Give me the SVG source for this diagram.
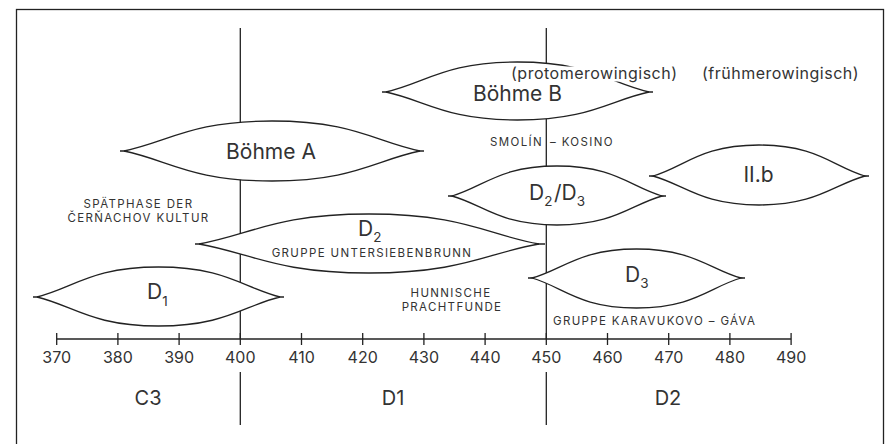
<svg xmlns="http://www.w3.org/2000/svg" width="891" height="444" viewBox="0 0 891 444">
  <style>
    .ln { fill: none; stroke: #222; stroke-width: 1.3; }
    .lens { fill: #fff; stroke: #222; stroke-width: 1.3; stroke-linejoin: miter; }
    .stub { fill: none; stroke: #222; stroke-width: 1.6; }
    text { font-family: Inter, "Liberation Sans", sans-serif; fill: #333; }
    .big { font-size: 21px; }
    .sub { font-size: 13.5px; }
    .cap { font-size: 11.5px; letter-spacing: 1.35px; }
    .paren { font-size: 16px; letter-spacing: 0.5px; }
    .num { font-size: 16px; text-anchor: middle; }
    .per { font-size: 20px; text-anchor: middle; }
    .mid { text-anchor: middle; }
  </style>

  <!-- outer frame (open at the bottom edge) -->
  <rect x="16.5" y="9.5" width="867" height="450" class="ln"/>

  <!-- period boundaries and time axis -->
  <g id="connectors">
    <path class="ln" d="M240.3,28 V339 M240.3,372 V425"/>
    <path class="ln" d="M546.3,28 V339 M546.3,372 V425"/>
    <path class="ln" d="M56.7,339 H791.1"/>
    <path class="ln" d="M56.7,333 v12 M117.9,333 v12 M179.1,333 v12 M240.3,333 v12 M301.5,333 v12 M362.7,333 v12 M423.9,333 v12 M485.1,333 v12 M546.3,333 v12 M607.5,333 v12 M668.7,333 v12 M729.9,333 v12 M791.1,333 v12"/>
  </g>

  <g id="axis-labels">
    <text class="num" x="56.7" y="363">370</text>
    <text class="num" x="117.9" y="363">380</text>
    <text class="num" x="179.1" y="363">390</text>
    <text class="num" x="240.3" y="363">400</text>
    <text class="num" x="301.5" y="363">410</text>
    <text class="num" x="362.7" y="363">420</text>
    <text class="num" x="423.9" y="363">430</text>
    <text class="num" x="485.1" y="363">440</text>
    <text class="num" x="546.3" y="363">450</text>
    <text class="num" x="607.5" y="363">460</text>
    <text class="num" x="668.7" y="363">470</text>
    <text class="num" x="729.9" y="363">480</text>
    <text class="num" x="791.1" y="363">490</text>
  </g>

  <g id="periods">
    <text class="per" x="148" y="405">C3</text>
    <text class="per" x="393" y="405">D1</text>
    <text class="per" x="668" y="405">D2</text>
  </g>

  <!-- Böhme A -->
  <g id="boehme-a">
    <path class="lens" d="M124,151 C168.4,142 190.6,121 272,121 C353.4,121 375.6,142 420,151 C375.6,160 353.4,181 272,181 C190.6,181 168.4,160 124,151 Z"/>
    <path class="stub" d="M120,151 H126 M418,151 H424"/>
    <text class="big mid" x="271" y="158.5">Böhme A</text>
  </g>

  <!-- Böhme B -->
  <g id="boehme-b">
    <path class="lens" d="M386,92 C425.5,83 445.2,62 517.5,62 C589.8,62 609.5,83 649,92 C609.5,100.4 589.8,120 517.5,120 C445.2,120 425.5,100.4 386,92 Z"/>
    <path class="stub" d="M382,92 H388 M647,92 H653"/>
    <rect x="509" y="66.5" width="172" height="15" fill="#fff"/>
    <text class="paren" x="511" y="79">(protomerowingisch)</text>
    <text class="big mid" x="517.5" y="101">Böhme B</text>
  </g>

  <g id="fruehmerowingisch">
    <text class="paren" x="702" y="79">(frühmerowingisch)</text>
  </g>

  <g id="smolin-kosino">
    <text class="cap"><tspan x="543" y="146" text-anchor="end">SMOLÍN</tspan><tspan x="550" y="146">– KOSINO</tspan></text>
  </g>

  <!-- D2/D3 -->
  <g id="d2-d3">
    <path class="lens" d="M452,196 C483.5,187 499.2,166 557,166 C614.8,166 630.5,187 662,196 C630.5,204.7 614.8,225 557,225 C499.2,225 483.5,204.7 452,196 Z"/>
    <path class="stub" d="M448,196 H454 M660,196 H666"/>
    <text class="big" x="529" y="200">D<tspan class="sub" dy="5.5">2</tspan><tspan dy="-5.5" dx="1.5">/</tspan>D<tspan class="sub" dy="5.5">3</tspan></text>
  </g>

  <!-- II.b -->
  <g id="iib">
    <path class="lens" d="M653,176 C684.8,166.7 700.7,145 759,145 C817.3,145 833.2,166.7 865,176 C833.2,184.7 817.3,205 759,205 C700.7,205 684.8,184.7 653,176 Z"/>
    <path class="stub" d="M649,176 H655 M863,176 H869"/>
    <text class="big mid" x="758.5" y="182">II.b</text>
  </g>

  <g id="cernachov">
    <text class="cap mid" x="138.5" y="208">SPÄTPHASE DER</text>
    <text class="cap mid" x="138.5" y="222">ČERŇACHOV KULTUR</text>
  </g>

  <!-- D2 -->
  <g id="d2">
    <path class="lens" d="M199,244 C250,235 275.5,214 369,214 C462.5,214 488,235 539,244 C488,252.7 462.5,273 369,273 C275.5,273 250,252.7 199,244 Z"/>
    <path class="stub" d="M195,244 H201 M537,244 H545"/>
    <text class="big" x="358" y="236">D<tspan class="sub" dy="6">2</tspan></text>
    <text class="cap mid" x="372" y="257">GRUPPE UNTERSIEBENBRUNN</text>
  </g>

  <!-- D1 -->
  <g id="d1">
    <path class="lens" d="M37,297 C73.5,288 91.7,267 158.5,267 C225.3,267 243.5,288 280,297 C243.5,305.7 225.3,326 158.5,326 C91.7,326 73.5,305.7 37,297 Z"/>
    <path class="stub" d="M33,297 H39 M278,297 H284"/>
    <text class="big" x="147" y="299">D<tspan class="sub" dy="7">1</tspan></text>
  </g>

  <g id="hunnische">
    <text class="cap mid" x="451" y="297">HUNNISCHE</text>
    <text class="cap mid" x="452" y="311">PRACHTFUNDE</text>
  </g>

  <!-- D3 -->
  <g id="d3">
    <path class="lens" d="M532,278 C563.4,269.3 579,249 636.5,249 C694,249 709.6,269.3 741,278 C709.6,287 694,308 636.5,308 C579,308 563.4,287 532,278 Z"/>
    <path class="stub" d="M528,278 H534 M739,278 H745"/>
    <text class="big" x="625" y="282">D<tspan class="sub" dy="6">3</tspan></text>
    <text class="cap" x="553" y="325">GRUPPE KARAVUKOVO – GÁVA</text>
  </g>
</svg>
